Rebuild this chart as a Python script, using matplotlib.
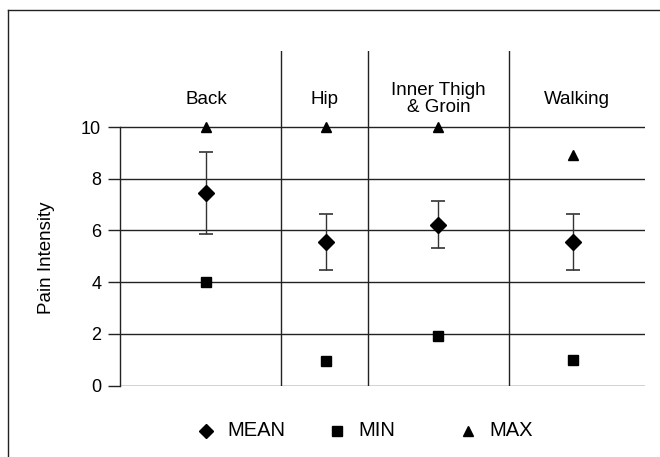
import matplotlib
matplotlib.use("Agg")
import matplotlib.pyplot as plt
from matplotlib.lines import Line2D

categories = ["Back", "Hip", "Inner Thigh\n& Groin", "Walking"]
mean_vals = [7.46, 5.55, 6.22, 5.55]
sd_vals = [1.58, 1.1, 0.9, 1.08]
min_vals = [4.0, 0.95, 1.9, 1.0]
max_vals = [10.0, 10.0, 10.0, 8.92]
y_ticks = [0, 2, 4, 6, 8, 10]

plt.rcParams['font.family'] = ["Liberation Sans", "DejaVu Sans"]

W, H = 660, 457
fig = plt.figure(figsize=(W / 100, H / 100), dpi=100)

# frame lines (left and top)
fig.add_artist(Line2D([8 / W, 8 / W], [0, 1 - 10 / H], transform=fig.transFigure, color="#222", lw=1.0))
fig.add_artist(Line2D([8 / W, 1], [1 - 10 / H, 1 - 10 / H], transform=fig.transFigure, color="#222", lw=1.0))

left_px, right_px, bottom_px, top_px = 120, 645, 385.5, 51
ax = fig.add_axes([left_px / W, 1 - bottom_px / H, (right_px - left_px) / W, (bottom_px - top_px) / H])
unit = 25.85
ax.set_xlim(0, right_px - left_px)
ax.set_ylim(0, (bottom_px - top_px) / unit)

bounds = [0, 161, 248, 389, 525]
xpos = [86, 206, 318, 453]

for s in ["top", "right", "bottom"]:
    ax.spines[s].set_visible(False)
ax.spines["left"].set_bounds(0, 10)
ax.spines["left"].set_color("#222")
ax.spines["left"].set_linewidth(1.0)

for t in y_ticks:
    ax.axhline(t, color="#222", lw=1.0, zorder=1)
for b in bounds[1:-1]:
    ax.axvline(b, color="#222", lw=1.0, zorder=1)

ax.set_xticks([])
ax.set_yticks(y_ticks)
ax.tick_params(axis="y", direction="out", length=8.5, width=1.0, color="#222", labelsize=13, pad=5)
ax.set_ylabel("Pain Intensity", fontsize=13.5)
ax.yaxis.set_label_coords(-(120 - 55) / (right_px - left_px), (bottom_px - 258) / (bottom_px - top_px))

ax.errorbar(xpos, mean_vals, yerr=sd_vals, fmt="none", ecolor="#333", elinewidth=1.0, capsize=5, capthick=1.2, zorder=2)
ax.plot(xpos, mean_vals, "D", color="black", markersize=8, linestyle="none", zorder=3)
ax.plot(xpos, min_vals, "s", color="black", markersize=7.5, linestyle="none", zorder=3)
ax.plot(xpos, max_vals, "^", color="black", markersize=7.5, linestyle="none", zorder=3)

label_y = (bottom_px - 99) / unit
for i, c in enumerate(categories):
    cx = (bounds[i] + bounds[i + 1]) / 2 + (6 if i == 0 else 0)
    ax.text(cx, label_y, c, ha="center", va="center", fontsize=13.5, linespacing=1.0)

# legend
ly = 1 - 431 / H
items = [("D", 206, "MEAN", 7), ("s", 337, "MIN", 6.5), ("^", 468, "MAX", 6.5)]
for m, x, t, ms in items:
    fig.add_artist(Line2D([x / W], [ly], marker=m, color="black", markersize=ms, linestyle="none", transform=fig.transFigure))
    fig.text((x + 21) / W, ly, t, ha="left", va="center", fontsize=14.5)

fig.savefig("out.png", dpi=100)
